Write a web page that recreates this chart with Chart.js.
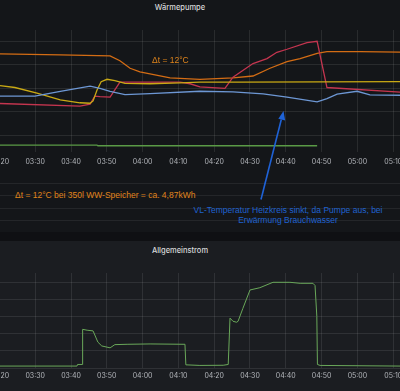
<!DOCTYPE html>
<html>
<head>
<meta charset="utf-8">
<script src="https://cdn.jsdelivr.net/npm/chart.js@4.4.1/dist/chart.umd.min.js"></script>
<style>
  html, body { margin: 0; padding: 0; }
  body { width: 400px; height: 391px; overflow: hidden; position: relative; background: #0f1013; font-family: Inter, "Noto Sans", sans-serif; }
  #panel1 { position: absolute; left: 0; top: 0; width: 400px; height: 232px; background: #141619; }
  #panel2 { position: absolute; left: 0; top: 241px; width: 400px; height: 150px; background: #1b1d21; }
  .title { position: absolute; left: 0; width: 360px; text-align: center; color: #d8d9da; font-size: 7.5px; font-weight: 500; }
  .wrap { position: absolute; left: -40px; width: 480px; }
  .rule { position: absolute; left: 0; width: 400px; height: 1px; background: rgba(255,255,255,0.07); }
  .note { position: absolute; font-family: "Liberation Sans", Arial, sans-serif; font-size: 8.5px; line-height: 10.4px; white-space: nowrap; }
  .orange { color: #e0851c; }
  .blue { color: #1f62d0; text-align: center; }
</style>
</head>
<body>
<div id="panel1"></div>
<div id="panel2"></div>
<div class="title" style="top:3px">Wärmepumpe</div>
<div class="title" style="top:246px">Allgemeinstrom</div>

<div class="rule" style="top:183px"></div>
<div class="rule" style="top:195px"></div>
<div class="rule" style="top:208px"></div>
<div class="rule" style="top:220px"></div>

<div class="wrap" style="top:0; height:172px"><canvas id="heatChart"></canvas></div>
<div class="wrap" style="top:241px; height:143px"><canvas id="powerChart"></canvas></div>

<div class="note orange" style="left:152px; top:55px">Δt = 12°C</div>
<div class="note orange" style="left:15px; top:190px">Δt = 12°C bei 350l WW-Speicher = ca. 4,87kWh</div>
<div class="note blue" style="left:188px; top:205px; width:200px">VL-Temperatur Heizkreis sinkt, da Pumpe aus, bei<br>Erwärmung Brauchwasser</div>

<svg style="position:absolute; left:0; top:0" width="400" height="391">
  <line x1="261" y1="199.5" x2="281.3" y2="119.5" stroke="#1f62d6" stroke-width="1.6"/>
  <polygon points="283.5,111 285.2,120.6 278.3,118.8" fill="#1f62d6"/>
</svg>

<script>
// Wärmepumpe (°C)
const orangeTimes = ['03:20:10', '03:37:00', '03:50:55', '03:53:40', '03:56:30', '03:59:15', '04:07:40', '04:16:00', '04:25:15', '04:30:50', '04:35:35', '04:40:20', '04:44:00', '04:48:45', '04:51:30', '05:00:45', '05:11:55'];
const orangeTemps = [54.7, 54.3, 53.9, 51.8, 48.6, 47.1, 44.5, 43.9, 44.5, 45.3, 48.6, 51.4, 52.7, 54.9, 55.7, 55.7, 55.5];

const yellowTimes = ['03:20:10', '03:24:20', '03:30:30', '03:37:00', '03:42:30', '03:45:20', '03:46:10', '03:47:15', '03:48:25', '03:50:05', '03:52:15', '03:55:05', '04:02:05', '04:10:25', '04:16:00', '04:27:15', '05:11:55'];
const yellowTemps = [41.2, 40.4, 38.0, 35.1, 33.9, 33.7, 34.7, 39.2, 42.9, 43.9, 43.3, 42.2, 42.0, 42.4, 42.7, 42.7, 42.9];

const blueTimes = ['03:20:10', '03:29:55', '03:37:00', '03:45:20', '03:48:05', '03:50:55', '03:55:05', '04:02:05', '04:16:00', '04:25:15', '04:33:40', '04:40:20', '04:48:45', '04:51:30', '04:54:20', '04:59:55', '05:03:30', '05:11:55'];
const blueTemps = [36.7, 36.7, 38.8, 41.0, 40.0, 38.8, 37.4, 37.8, 38.8, 38.5, 37.7, 36.3, 34.3, 35.7, 37.6, 38.8, 37.3, 37.1];

const redTimes = ['03:20:10', '03:42:30', '03:45:20', '03:46:40', '03:48:05', '03:50:55', '03:53:40', '03:56:30', '04:10:25', '04:13:15', '04:16:00', '04:23:00', '04:25:15', '04:30:50', '04:34:45', '04:37:30', '04:40:20', '04:45:55', '04:48:45', '04:51:30', '05:11:55'];
const redTemps = [33.6, 32.5, 33.3, 36.7, 36.5, 36.3, 42.7, 42.7, 42.7, 42.0, 40.7, 40.0, 44.8, 50.6, 52.7, 55.4, 56.7, 59.5, 60.1, 40.4, 38.4];

const greenTimes = ['03:20:10', '03:47:15', '03:47:30', '04:48:45'];
const greenTemps = [15.9, 15.9, 15.6, 15.6];

// Allgemeinstrom (W)
const powerTimes = ['03:20:10', '03:41:40', '03:41:50', '03:43:10', '03:43:15', '03:44:30', '03:46:10', '03:47:30', '03:48:35', '03:50:55', '03:52:15', '03:55:40', '04:02:05', '04:11:50', '04:12:05', '04:16:00', '04:22:30', '04:23:55', '04:24:25', '04:25:15', '04:26:15', '04:26:40', '04:28:00', '04:30:00', '04:32:45', '04:36:25', '04:41:10', '04:44:00', '04:47:35', '04:48:10', '04:48:40', '04:48:50', '04:49:35', '05:11:55'];
const powerValues = [56, 56, 103, 103, 1126, 1100, 1080, 754, 642, 587, 680, 690, 700, 690, 92, 75, 80, 103, 1452, 1360, 1332, 1360, 1732, 2271, 2337, 2494, 2494, 2465, 2465, 2400, 1508, 103, 75, 56];

const timeTicks = ['03:20', '03:30', '03:40', '03:50', '04:00', '04:10', '04:20', '04:30', '04:40', '04:50', '05:00', '05:10'];

function toMin(t) {
  const p = t.split(':').map(Number);
  return p[0] * 60 + p[1] + (p[2] || 0) / 60;
}
function fmt(m) {
  const h = Math.floor(m / 60), mm = Math.round(m % 60);
  return String(h).padStart(2, '0') + ':' + String(mm).padStart(2, '0');
}
function points(times, values) {
  return times.map((t, i) => ({ x: toMin(t), y: values[i] }));
}

const tickMinutes = timeTicks.map(toMin);
const gridColor = 'rgba(255, 255, 255, 0.09)';

function xAxis() {
  return {
    type: 'linear',
    min: toMin('03:20'),
    max: toMin('03:20') + 440.6 / 3.58,
    afterBuildTicks: (scale) => { scale.ticks = tickMinutes.map(v => ({ value: v })); },
    grid: { color: gridColor, drawTicks: false },
    border: { display: false },
    ticks: { color: '#b4b7bc', font: { size: 7, family: 'Inter' }, padding: 6, maxRotation: 0, autoSkip: false, callback: (v) => fmt(v) }
  };
}

function yAxis(min, max, step, topTick) {
  return {
    min: min,
    max: max,
    afterBuildTicks: (scale) => {
      const t = [];
      for (let v = Math.ceil(min / step) * step; v <= topTick; v += step) t.push({ value: v });
      scale.ticks = t;
    },
    afterFit: (scale) => { scale.width = 39.4; },
    grid: { color: gridColor, drawTicks: false },
    border: { display: false },
    ticks: { display: false }
  };
}

function line(data, color, width) {
  return { data: data, borderColor: color, borderWidth: width, pointRadius: 0, tension: 0, fill: false };
}

Chart.defaults.animation = false;

new Chart(document.getElementById('heatChart'), {
  type: 'line',
  data: {
    datasets: [
      line(points(greenTimes, greenTemps), '#5a9a46', 1.3),
      line(points(blueTimes, blueTemps), '#6d97d4', 1.3),
      line(points(yellowTimes, yellowTemps), '#c9a914', 1.3),
      line(points(redTimes, redTemps), '#c4354f', 1.3),
      line(points(orangeTimes, orangeTemps), '#d36c14', 1.3)
    ]
  },
  options: {
    responsive: true,
    maintainAspectRatio: false,
    layout: { padding: { top: 30, left: 0, right: 0, bottom: 0 } },
    plugins: { legend: { display: false }, tooltip: { enabled: false } },
    scales: {
      x: xAxis(),
      y: yAxis(13.1, 64.9, 10, 60)
    }
  }
});

new Chart(document.getElementById('powerChart'), {
  type: 'line',
  data: {
    datasets: [
      line(points(powerTimes, powerValues), '#6aa85a', 1)
    ]
  },
  options: {
    responsive: true,
    maintainAspectRatio: false,
    layout: { padding: { top: 32, left: 0, right: 0, bottom: 0 } },
    plugins: { legend: { display: false }, tooltip: { enabled: false } },
    scales: {
      x: Object.assign(xAxis(), { ticks: Object.assign(xAxis().ticks, { padding: 3.8 }) }),
      y: yAxis(0, 2765, 500, 2500)
    }
  }
});
</script>
</body>
</html>
